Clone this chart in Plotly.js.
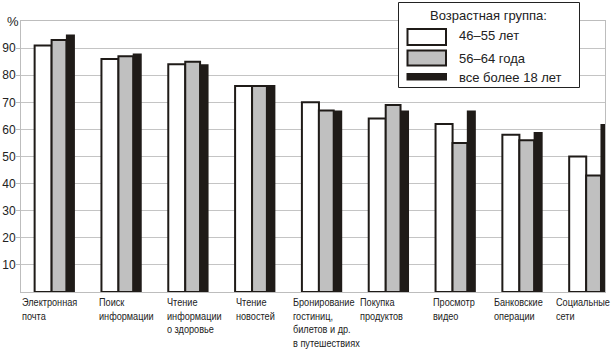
<!DOCTYPE html>
<html>
<head>
<meta charset="utf-8">
<script src="https://cdn.plot.ly/plotly-3.0.1.min.js"></script>
<style>html,body{margin:0;padding:0;background:#fff;}</style>
</head>
<body>
<div id="chart" style="width:611px;height:350px;"></div>
<script>
// ---- data ----
var categories = ["Электронная почта","Поиск информации","Чтение информации о здоровье","Чтение новостей","Бронирование гостиниц, билетов и др. в путешествиях","Покупка продуктов","Просмотр видео","Банковские операции","Социальные сети"];
var categoryLabels = ["Электронная<br>почта","Поиск<br>информации","Чтение<br>информации<br>о здоровье","Чтение<br>новостей","Бронирование<br>гостиниц,<br>билетов и др.<br>в путешествиях","Покупка<br>продуктов","Просмотр<br>видео","Банковские<br>операции","Социальные<br>сети"];
var seriesNames = ["46–55 лет","56–64 года","все более 18 лет"];
var age46_55 = [91, 86, 84, 76, 70, 64, 62, 58, 50];
var age56_64 = [93, 87, 85, 76, 67, 69, 55, 56, 43];
var allOver18 = [95, 88, 84, 76.4, 67, 67, 67, 59, 62];
var yTicks = [10, 20, 30, 40, 50, 60, 70, 80, 90];
var legendTitle = "Возрастная группа:";

// ---- layout helpers ----
var W = 611, H = 350;
var M = {l: 21, r: 6, t: 21, b: 58};
var pw = W - M.l - M.r, ph = H - M.t - M.b;
function px(x){ return (x - M.l) / pw; }
function py(y){ return (H - M.b - y) / ph; }
// horizontal placement of each category label relative to its category (px)
var labelShift = [-34, -24.5, -23, -21, -31, -30.5, -24.5, -30, -34.5];

var black = "#1f1b18";
var traces = [
  {type:"bar", x:categories, y:age46_55, name:seriesNames[0], offset:-0.296, width:0.255,
   marker:{color:"#ffffff", line:{color:black, width:2}}},
  {type:"bar", x:categories, y:age56_64, name:seriesNames[1], offset:-0.042, width:0.222,
   marker:{color:"#c0c0c0", line:{color:black, width:2}}},
  {type:"bar", x:categories, y:allOver18, name:seriesNames[2], offset:0.172, width:0.135,
   marker:{color:black, line:{color:black, width:0}}}
];

var annotations = categoryLabels.map(function(t, i){
  return {x: categories[i], xref:"x", y:0, yref:"paper", xanchor:"left", yanchor:"top",
    xshift:labelShift[i], yshift:-3, align:"left", showarrow:false, text:t,
    font:{family:"Liberation Sans, Arial, sans-serif", size:10.4, color:"#222"}};
});
annotations.push({x:px(13), y:py(21), xref:"paper", yref:"paper", xanchor:"center", yanchor:"middle",
  text:"%", showarrow:false, font:{family:"Liberation Sans, Arial, sans-serif", size:13, color:"#222"}});
annotations.push({x:px(488.5), y:py(15), xref:"paper", yref:"paper", xanchor:"center", yanchor:"middle",
  text:legendTitle, showarrow:false, font:{family:"Liberation Sans, Arial, sans-serif", size:13, color:"#222"}});
var legTextY = [35.5, 58, 77];
seriesNames.forEach(function(n, i){
  annotations.push({x:px(457), y:py(legTextY[i]), xref:"paper", yref:"paper", xanchor:"left", yanchor:"middle",
    text:n, showarrow:false, font:{family:"Liberation Sans, Arial, sans-serif", size:13, color:"#222"}});
});

var shapes = [
  {type:"rect", xref:"paper", yref:"paper", x0:px(398.5), x1:px(579.5), y0:py(87.5), y1:py(2.5),
   fillcolor:"#ffffff", line:{color:"#222", width:1}, layer:"above"},
  {type:"rect", xref:"paper", yref:"paper", x0:px(407.5), x1:px(446), y0:py(45), y1:py(29),
   fillcolor:"#ffffff", line:{color:black, width:2}, layer:"above"},
  {type:"rect", xref:"paper", yref:"paper", x0:px(407.5), x1:px(446), y0:py(65.5), y1:py(50.5),
   fillcolor:"#c0c0c0", line:{color:black, width:2}, layer:"above"},
  {type:"rect", xref:"paper", yref:"paper", x0:px(406.5), x1:px(447), y0:py(80.5), y1:py(73),
   fillcolor:black, line:{color:black, width:0}, layer:"above"}
];

var layout = {
  width: W, height: H,
  margin: M,
  paper_bgcolor:"#ffffff", plot_bgcolor:"#ffffff",
  showlegend:false,
  barmode:"overlay",
  xaxis:{type:"category", range:[-0.5, 8.24], showticklabels:false, ticks:"",
    showgrid:false, showline:true, linecolor:"#bdbdbd", linewidth:1, mirror:true, zeroline:false},
  yaxis:{range:[0, 100], tickvals:yTicks, ticks:"outside", ticklen:4, tickcolor:"#bdbdbd",
    ticklabelstandoff:-2,
    showgrid:true, gridcolor:"#c4c4c4", gridwidth:1, showline:true, linecolor:"#bdbdbd", linewidth:1, mirror:true,
    zeroline:false, tickfont:{family:"Liberation Sans, Arial, sans-serif", size:12, color:"#222"}},
  annotations: annotations,
  shapes: shapes
};

Plotly.newPlot("chart", traces, layout, {staticPlot:true, displayModeBar:false}).then(function(gd){
  // condense the category labels horizontally (narrow typeface look), keeping their left edge
  var nodes = gd.querySelectorAll("g.annotation");
  for (var i = 0; i < categoryLabels.length && i < nodes.length; i++) {
    var t = nodes[i].querySelector("text.annotation-text");
    if (!t) continue;
    var bb = t.getBBox();
    var s = 0.88;
    t.setAttribute("transform", "translate(" + bb.x + ",0) scale(" + s + ",1) translate(" + (-bb.x) + ",0)");
  }
});
</script>
</body>
</html>
